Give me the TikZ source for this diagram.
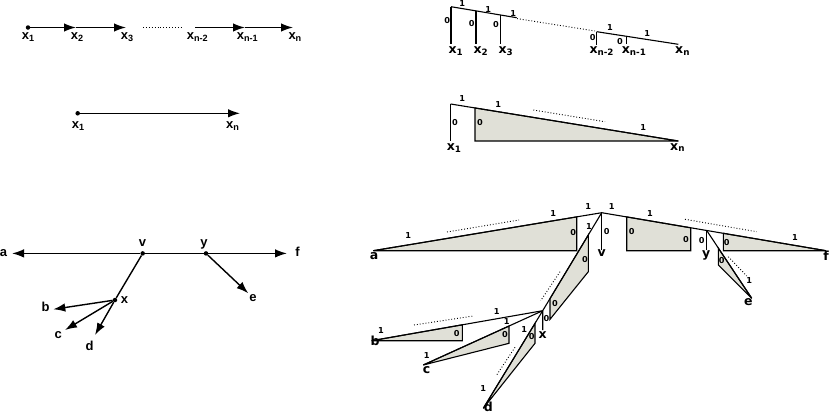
\documentclass[tikz,border=0pt]{standalone}
\usepackage{fontspec}
\setmainfont{Liberation Sans}
\newfontfamily\dvfont{DejaVu Sans}
\usetikzlibrary{arrows.meta}
\definecolor{gsh}{RGB}{224,224,215}
\tikzset{
    lbl/.style={font=\bfseries\fontsize{13}{13}\selectfont,inner sep=0pt,anchor=base west},
    rlbl/.style={font=\dvfont\bfseries\fontsize{12.5}{13}\selectfont,inner sep=0pt,anchor=base},
    bit/.style={font=\dvfont\bfseries\fontsize{8.2}{9}\selectfont,inner sep=0pt},
    pt/.style={circle,fill,inner sep=0pt,minimum size=4.5pt},
    arr/.style={-{Latex[length=12pt,width=8.5pt]},line width=1.4pt},
    thin/.style={line width=1.1pt},
    wedge/.style={draw,fill=gsh,line width=1.1pt},
    dotrow/.style={line width=0.9pt,dash pattern=on 0.9pt off 2pt}
}
\begin{document}
\begin{tikzpicture}[x=1pt,y=-1pt]
    \useasboundingbox (0,0) rectangle (830,418);
    % path x1 ... xn
    \node[pt] (c1) at (28,27.5) {};
    \coordinate (c2) at (76,27.5);
    \coordinate (c3) at (126,27.5);
    \coordinate (c4) at (195,27.5);
    \coordinate (c5) at (245,27.5);
    \coordinate (c6) at (293,27.5);
    \coordinate (q1) at (143,27.5);
    \coordinate (q2) at (182,27.5);
    \foreach \a/\b in {c1/c2,c2/c3,c4/c5,c5/c6}
        \draw[arr] (\a) -- (\b);
    \draw[dotrow] (q1) -- (q2);
    \foreach \px/\s [count=\i] in {21.7/1,70.7/2,120.7/3,186.7/n-2,236.7/n-1,288.3/n}
        \node[lbl] (lx\i) at (\px,39.5) {x\textsubscript{\s}};
    % contracted
    \node[pt] (s1) at (77.7,113.3) {};
    \coordinate (sn) at (240,113.3);
    \draw[arr] (s1) -- (sn);
    \node[lbl] (ls1) at (71.7,128.3) {x\textsubscript{1}};
    \node[lbl] (lsn) at (226,128.3) {x\textsubscript{n}};
    % tree
    \node[pt] (v) at (142.7,253.4) {};
    \node[pt] (y) at (206,253.4) {};
    \node[pt] (x) at (115,300) {};
    \coordinate (ta) at (12,253.4);
    \coordinate (tf) at (287,253.4);
    \coordinate (tb) at (53.3,309.3);
    \coordinate (tc) at (65,330);
    \coordinate (td) at (95,335);
    \coordinate (te) at (248.3,293.3);
    \draw[arr] (v) -- (ta);
    \draw[line width=1.4pt] (v) -- (y);
    \draw[line width=1.4pt] (v) -- (x);
    \draw[arr] (y) -- (tf);
    \draw[arr] (y) -- (te);
    \foreach \t in {tb,tc,td}
        \draw[arr] (x) -- (\t);
    \foreach \px/\py/\s in {3.5/256.5/a,142.5/246.7/v,204/246.7/y,297.5/256.5/f,124.5/303.5/x,45.5/311.7/b,58.3/338.3/c,89.7/350/d,253/301.7/e}
        \node[lbl,anchor=base] (l\s) at (\px,\py) {\s};
    % encoded path
    \coordinate (k1) at (451,6.7);
    \coordinate (k2) at (516.7,17.7);
    \coordinate (k3) at (596.7,31.7);
    \coordinate (k4) at (678.3,44.3);
    \draw[thin] (k1) -- (k2);
    \draw[thin] (k3) -- (k4);
    \draw[dotrow] (517,18.6) -- (595,31);
    \foreach \px/\pt/\pb in {451/6.7/43.5,476/10.9/43.5,500.7/15/43.5,596.7/31.7/45,626.7/36.3/44}
        \draw[thin] (\px,\pt) -- (\px,\pb);
    \foreach \px/\s [count=\i] in {448.3/1,473.3/2,498.3/3,589.3/n-2,621.7/n-1,675/n}
        \node[lbl,font=\dvfont\bfseries\fontsize{12.5}{13}\selectfont] (rx\i) at (\px,53.3) {x\textsubscript{\s}};
    \foreach \px/\py/\b [count=\i] in {447.3/20.7/0,471.7/24/0,496/25/0,592.7/37.3/0,620/41.7/0,462.3/4/1,488.3/9.3/1,513.3/14/1,610/27.7/1,647.3/33.3/1}
        \node[bit] (pb\i) at (\px,\py) {\b};
    % encoded contracted
    \coordinate (m1) at (450.7,104);
    \coordinate (m2) at (678.3,141);
    \draw[wedge] (475,107.95) -- (m2) -- (475,141) -- cycle;
    \draw[thin] (m1) -- (m2);
    \draw[thin] (m1) -- (450.7,141);
    \draw[dotrow] (533.3,110) -- (605,121.7);
    \node[lbl,font=\dvfont\bfseries\fontsize{12.5}{13}\selectfont] (rs1) at (446.7,150) {x\textsubscript{1}};
    \node[lbl,font=\dvfont\bfseries\fontsize{12.5}{13}\selectfont] (rsn) at (670,150) {x\textsubscript{n}};
    \foreach \px/\py/\b [count=\i] in {462.3/99/1,498.3/104.3/1,643.3/127.7/1,455/122.3/0,480/122.3/0}
        \node[bit] (cb\i) at (\px,\py) {\b};
    % encoded tree
    \coordinate (A) at (373.3,250.7);
    \coordinate (V) at (601.7,212.7);
    \coordinate (F) at (826,250.7);
    \coordinate (Y) at (706.7,230.5);
    \coordinate (X) at (542.7,310.7);
    \coordinate (B) at (371.7,340.7);
    \coordinate (C) at (423.3,365);
    \coordinate (D) at (483.3,408.3);
    \coordinate (E) at (751.7,298.3);
    \draw[wedge] (A) -- (576.7,216.9) -- (576.7,250.7) -- cycle;
    \draw[wedge] (626.7,216.9) -- (690.7,227.8) -- (690.7,250.7) -- (626.7,250.7) -- cycle;
    \draw[wedge] (723.3,233.3) -- (F) -- (723.3,250.7) -- cycle;
    \draw[wedge] (588.3,235) -- (588.3,271.7) -- (550,319.3) -- (550,298.6) -- cycle;
    \draw[wedge] (462.3,324.8) -- (462.3,340.7) -- (B) -- cycle;
    \draw[wedge] (509,326) -- (509,343.3) -- (C) -- cycle;
    \draw[wedge] (535,323.4) -- (535,343.3) -- (D) -- cycle;
    \draw[wedge] (718.3,248.1) -- (718.3,265) -- (E) -- cycle;
    \draw[thin] (A) -- (V) -- (F);
    \draw[thin] (V) -- (601.7,250);
    \draw[thin] (Y) -- (706.7,250);
    \draw[thin] (V) -- (X) -- (542.7,330);
    \foreach \t in {B,C,D}
        \draw[thin] (X) -- (\t);
    \draw[thin] (Y) -- (E);
    \draw[dotrow] (447,232) -- (519,220);
    \draw[dotrow] (685,219.3) -- (756.7,231.7);
    \draw[dotrow] (728.3,256.7) -- (746.7,276);
    \draw[dotrow] (560,271.7) -- (540.7,300.7);
    \draw[dotrow] (414,325) -- (473.3,316);
    \draw[dotrow] (515,347.3) -- (496,376);
    \foreach \px/\py/\b [count=\i] in {408.3/236/1,553.3/213.3/1,573.3/232.7/0,588.3/206.7/1,611.7/206.7/1,606.7/231.7/0,589/226.7/1,650/213.3/1,631.7/231.7/0,686/239.3/0,701.7/240.7/0,726.7/242.7/0,795/237.3/1,721.7/261/0,749.3/280.7/1,585/259.3/0,555/303.3/0,546.5/318.3/0,381/330.7/1,496.7/311.7/1,456.7/333.3/0,426.7/356/1,506.7/321.7/1,505/335/0,483.3/389/1,524.3/329.3/1,531.7/336.7/0}
        \node[bit] (tb\i) at (\px,\py) {\b};
    \foreach \px/\py/\s in {374/259/a,601.7/256.7/v,706.3/257.3/y,826/260/f,542.7/338.3/x,375/345/b,426.7/373.3/c,488.3/411.7/d,748.3/305/e}
        \node[rlbl] (r\s) at (\px,\py) {\s};
\end{tikzpicture}
\end{document}
